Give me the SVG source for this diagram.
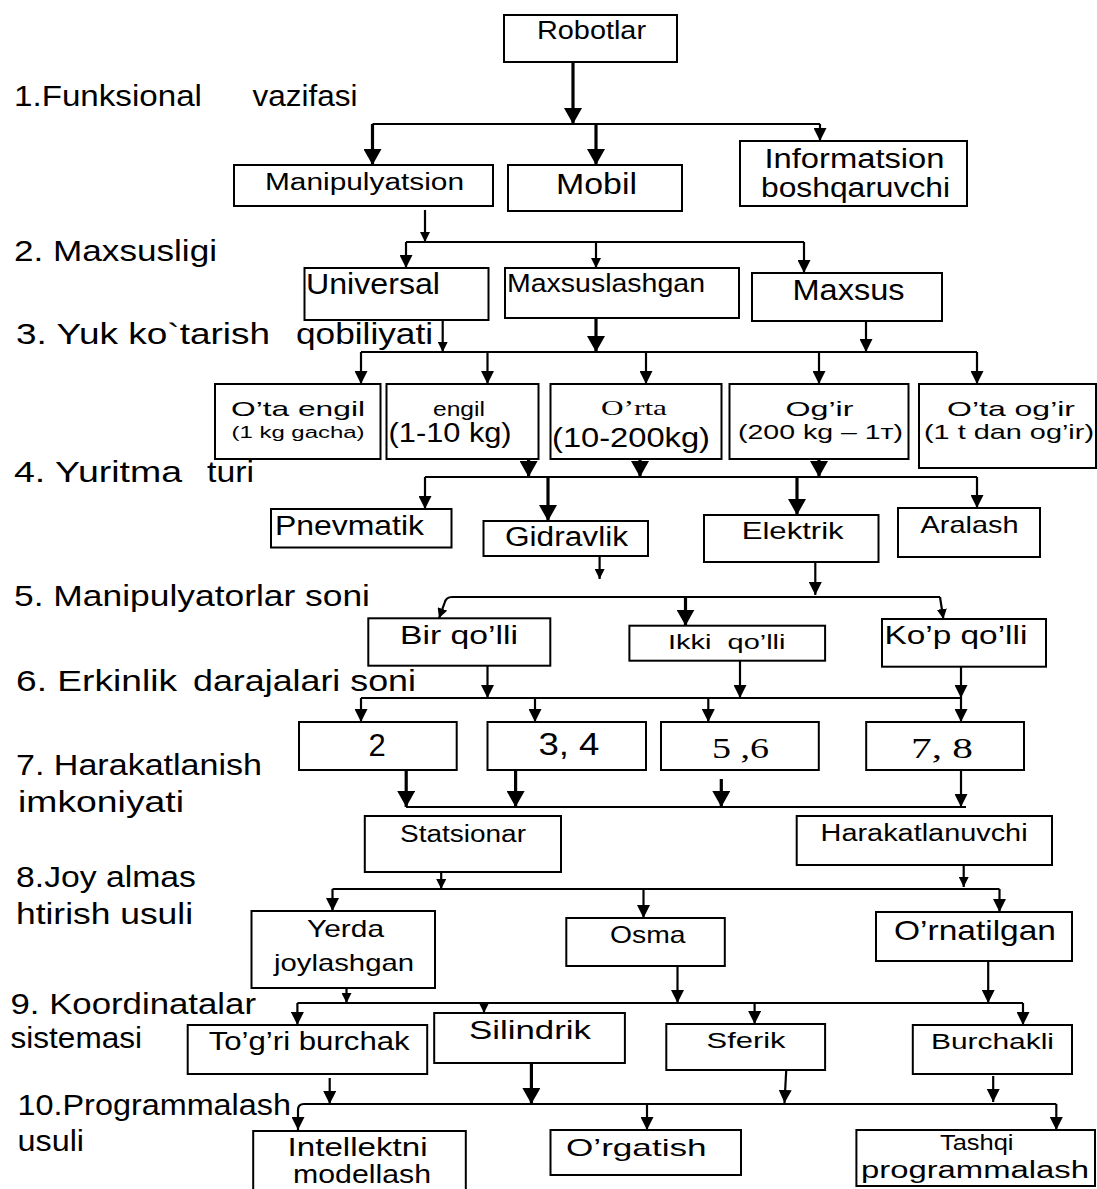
<svg xmlns="http://www.w3.org/2000/svg" width="1097" height="1189" viewBox="0 0 1097 1189">
<style>
.ln{fill:none;stroke:#000;stroke-width:2.2}
.tk{stroke-width:3.2}
.bx{fill:#fff;stroke:#000;stroke-width:2}
text{font-family:"Liberation Sans",Arial,sans-serif;fill:#000}
.sf{font-family:"Liberation Serif","Times New Roman",serif}
.lb{font-size:30px}
</style>
<defs>
<marker id="ms" markerUnits="userSpaceOnUse" markerWidth="10" markerHeight="10" refX="10" refY="5" orient="auto"><path d="M0,0 L10,5 L0,10 z"/></marker>
<marker id="mm" markerUnits="userSpaceOnUse" markerWidth="13" markerHeight="13" refX="13" refY="6.5" orient="auto"><path d="M0,0 L13,6.5 L0,13 z"/></marker>
<marker id="ml" markerUnits="userSpaceOnUse" markerWidth="16" markerHeight="18" refX="16" refY="9" orient="auto"><path d="M0,0 L16,9 L0,18 z"/></marker>
</defs>
<rect width="1097" height="1189" fill="#fff"/>

<g id="labels">
<text class="lb" y="106" font-size="26"><tspan x="14" textLength="188" lengthAdjust="spacingAndGlyphs">1.Funksional</tspan><tspan x="252.5" textLength="105" lengthAdjust="spacingAndGlyphs">vazifasi</tspan></text>
<text class="lb" x="14" y="261" textLength="203" lengthAdjust="spacingAndGlyphs">2. Maxsusligi</text>
<text class="lb" y="344"><tspan x="16" textLength="254" lengthAdjust="spacingAndGlyphs">3. Yuk ko`tarish</tspan><tspan x="296" textLength="137" lengthAdjust="spacingAndGlyphs">qobiliyati</tspan></text>
<text class="lb" y="482"><tspan x="14" textLength="168" lengthAdjust="spacingAndGlyphs">4. Yuritma</tspan><tspan x="207" textLength="47" lengthAdjust="spacingAndGlyphs">turi</tspan></text>
<text class="lb" x="14" y="606" textLength="356" lengthAdjust="spacingAndGlyphs">5. Manipulyatorlar soni</text>
<text class="lb" y="691"><tspan x="16" textLength="161" lengthAdjust="spacingAndGlyphs">6. Erkinlik</tspan><tspan x="193" textLength="223" lengthAdjust="spacingAndGlyphs">darajalari soni</tspan></text>
<text class="lb" x="16" y="775" textLength="246" lengthAdjust="spacingAndGlyphs">7. Harakatlanish</text>
<text class="lb" x="18" y="812" textLength="166" lengthAdjust="spacingAndGlyphs">imkoniyati</text>
<text class="lb" x="16" y="887" textLength="180" lengthAdjust="spacingAndGlyphs">8.Joy almas</text>
<text class="lb" x="16" y="924" textLength="177" lengthAdjust="spacingAndGlyphs">htirish usuli</text>
<text class="lb" x="10.5" y="1014" textLength="245.5" lengthAdjust="spacingAndGlyphs">9. Koordinatalar</text>
<text class="lb" x="10.5" y="1048" textLength="131.5" lengthAdjust="spacingAndGlyphs">sistemasi</text>
<text class="lb" x="17.5" y="1115" textLength="273.5" lengthAdjust="spacingAndGlyphs">10.Programmalash</text>
<text class="lb" x="17.5" y="1151" textLength="66.5" lengthAdjust="spacingAndGlyphs">usuli</text>
</g>

<g id="connectors">
<line class="ln tk" x1="573" y1="58" x2="573" y2="124" marker-end="url(#ml)"/>
<line class="ln" x1="372.5" y1="124" x2="820" y2="124"/>
<line class="ln tk" x1="372.5" y1="124" x2="372.5" y2="165" marker-end="url(#ml)"/>
<line class="ln tk" x1="596" y1="124" x2="596" y2="165" marker-end="url(#ml)"/>
<line class="ln" x1="820" y1="124" x2="820" y2="141" marker-end="url(#mm)"/>

<line class="ln" x1="425" y1="210" x2="425" y2="242" marker-end="url(#ms)"/>
<line class="ln" x1="406" y1="242" x2="804" y2="242"/>
<line class="ln" x1="406" y1="242" x2="406" y2="268" marker-end="url(#mm)"/>
<line class="ln" x1="596" y1="242" x2="596" y2="268" marker-end="url(#ms)"/>
<line class="ln" x1="804" y1="242" x2="804" y2="273" marker-end="url(#mm)"/>

<line class="ln" x1="442.7" y1="321" x2="442.7" y2="352" marker-end="url(#ms)"/>
<line class="ln tk" x1="596" y1="310" x2="596" y2="352" marker-end="url(#ml)"/>
<line class="ln" x1="866" y1="320" x2="866" y2="352" marker-end="url(#mm)"/>
<line class="ln" x1="361" y1="352" x2="977" y2="352"/>
<line class="ln" x1="361" y1="352" x2="361" y2="384" marker-end="url(#mm)"/>
<line class="ln" x1="487.5" y1="352" x2="487.5" y2="384" marker-end="url(#mm)"/>
<line class="ln" x1="646" y1="352" x2="646" y2="384" marker-end="url(#mm)"/>
<line class="ln" x1="819" y1="352" x2="819" y2="384" marker-end="url(#mm)"/>
<line class="ln" x1="977" y1="352" x2="977" y2="384" marker-end="url(#mm)"/>

<line class="ln tk" x1="528.6" y1="459" x2="528.6" y2="477" marker-end="url(#ml)"/>
<line class="ln tk" x1="640" y1="459" x2="640" y2="477" marker-end="url(#ml)"/>
<line class="ln tk" x1="819" y1="459" x2="819" y2="477" marker-end="url(#ml)"/>
<line class="ln" x1="425" y1="477" x2="977" y2="477"/>
<line class="ln" x1="425" y1="477" x2="425" y2="509" marker-end="url(#mm)"/>
<line class="ln tk" x1="548" y1="477" x2="548" y2="521" marker-end="url(#ml)"/>
<line class="ln tk" x1="797" y1="477" x2="797" y2="515" marker-end="url(#ml)"/>
<line class="ln" x1="977" y1="477" x2="977" y2="508" marker-end="url(#mm)"/>

<line class="ln" x1="599.6" y1="557" x2="599.6" y2="579" marker-end="url(#ms)"/>
<line class="ln" x1="815.3" y1="562" x2="815.3" y2="595" marker-end="url(#mm)"/>
<path class="ln" d="M940,597 L452,597 Q446,597 444.5,603 L439,618.3" marker-end="url(#ms)"/>
<line class="ln tk" x1="685.5" y1="597" x2="685.5" y2="625.7" marker-end="url(#ml)"/>
<line class="ln" x1="940" y1="597" x2="943.4" y2="619" marker-end="url(#ms)"/>

<line class="ln" x1="487.5" y1="666" x2="487.5" y2="698" marker-end="url(#mm)"/>
<line class="ln" x1="740" y1="661" x2="740" y2="698" marker-end="url(#mm)"/>
<line class="ln" x1="961" y1="667" x2="961" y2="698" marker-end="url(#mm)"/>
<line class="ln" x1="361" y1="698" x2="961" y2="698"/>
<line class="ln" x1="361" y1="698" x2="361" y2="722" marker-end="url(#mm)"/>
<line class="ln" x1="535" y1="698" x2="535" y2="722" marker-end="url(#mm)"/>
<line class="ln" x1="708.3" y1="698" x2="708.3" y2="722" marker-end="url(#mm)"/>
<line class="ln" x1="961" y1="698" x2="961" y2="722" marker-end="url(#mm)"/>

<line class="ln tk" x1="406.2" y1="764" x2="406.2" y2="807" marker-end="url(#ml)"/>
<line class="ln tk" x1="515.6" y1="770" x2="515.6" y2="807" marker-end="url(#ml)"/>
<line class="ln tk" x1="721.3" y1="779" x2="721.3" y2="807" marker-end="url(#ml)"/>
<line class="ln" x1="961" y1="770" x2="961" y2="807" marker-end="url(#mm)"/>
<line class="ln" x1="406" y1="807" x2="966" y2="807"/>

<line class="ln" x1="441.2" y1="872" x2="441.2" y2="889" marker-end="url(#ms)"/>
<line class="ln" x1="963.7" y1="865" x2="963.7" y2="887" marker-end="url(#ms)"/>
<line class="ln" x1="332.5" y1="889" x2="999.5" y2="889"/>
<line class="ln" x1="332.5" y1="889" x2="332.5" y2="911" marker-end="url(#mm)"/>
<line class="ln" x1="643.5" y1="889" x2="643.5" y2="918" marker-end="url(#mm)"/>
<line class="ln" x1="999.5" y1="889" x2="999.5" y2="912" marker-end="url(#mm)"/>

<line class="ln" x1="346.5" y1="988" x2="346.5" y2="1003" marker-end="url(#ms)"/>
<line class="ln" x1="677.5" y1="966" x2="677.5" y2="1003" marker-end="url(#mm)"/>
<line class="ln" x1="988.2" y1="953" x2="988.2" y2="1003" marker-end="url(#mm)"/>
<line class="ln" x1="297.4" y1="1003" x2="1023" y2="1003"/>
<line class="ln" x1="297.4" y1="1003" x2="297.4" y2="1025" marker-end="url(#mm)"/>
<line class="ln" x1="484" y1="1003" x2="484" y2="1013" marker-end="url(#ms)"/>
<line class="ln" x1="754.6" y1="1003" x2="754.6" y2="1024" marker-end="url(#mm)"/>
<line class="ln" x1="1023" y1="1003" x2="1023" y2="1025" marker-end="url(#mm)"/>

<line class="ln" x1="329.7" y1="1078" x2="329.7" y2="1104" marker-end="url(#mm)"/>
<line class="ln tk" x1="531.4" y1="1063" x2="531.4" y2="1104" marker-end="url(#ml)"/>
<line class="ln" x1="786.6" y1="1063" x2="784.5" y2="1103" marker-end="url(#mm)"/>
<line class="ln" x1="993.2" y1="1076" x2="993.2" y2="1102" marker-end="url(#mm)"/>
<path class="ln" d="M1056.3,1104 L304,1104 Q298,1104 298,1110 L298,1130" marker-end="url(#mm)"/>
<line class="ln" x1="647" y1="1104" x2="647" y2="1130" marker-end="url(#mm)"/>
<line class="ln" x1="1056.3" y1="1104" x2="1056.3" y2="1130" marker-end="url(#mm)"/>
</g>

<g id="n-robotlar"><rect class="bx" x="504" y="15" width="173" height="47"/><text x="537" y="39" font-size="25" textLength="109" lengthAdjust="spacingAndGlyphs">Robotlar</text></g>
<g id="n-manipulyatsion"><rect class="bx" x="234" y="165" width="259" height="41"/><text x="265" y="190" font-size="23" textLength="199" lengthAdjust="spacingAndGlyphs">Manipulyatsion</text></g>
<g id="n-mobil"><rect class="bx" x="508" y="165" width="174" height="46"/><text x="556" y="194" font-size="29" textLength="81" lengthAdjust="spacingAndGlyphs">Mobil</text></g>
<g id="n-informatsion"><rect class="bx" x="740" y="141" width="227" height="65"/><text x="764.5" y="168" font-size="27" textLength="180" lengthAdjust="spacingAndGlyphs">Informatsion</text><text x="761" y="197" font-size="27" textLength="189" lengthAdjust="spacingAndGlyphs">boshqaruvchi</text></g>

<g id="n-universal"><rect class="bx" x="304.5" y="268" width="184" height="52"/><text x="306" y="294" font-size="30" textLength="134" lengthAdjust="spacingAndGlyphs">Universal</text></g>
<g id="n-maxsuslashgan"><rect class="bx" x="505" y="268" width="234" height="50"/><text x="507" y="292" font-size="26" textLength="198" lengthAdjust="spacingAndGlyphs">Maxsuslashgan</text></g>
<g id="n-maxsus"><rect class="bx" x="752" y="273" width="190" height="48"/><text x="792.5" y="300" font-size="30" textLength="112" lengthAdjust="spacingAndGlyphs">Maxsus</text></g>

<g id="n-ota-engil"><rect class="bx" x="215" y="384" width="165.5" height="75"/><text x="231" y="416" font-size="21" textLength="134" lengthAdjust="spacingAndGlyphs">O’ta engil</text><text x="231.5" y="438" font-size="16" textLength="133" lengthAdjust="spacingAndGlyphs">(1 kg gacha)</text></g>
<g id="n-engil"><rect class="bx" x="386.5" y="384" width="152" height="75"/><text x="433" y="416" font-size="21" textLength="52" lengthAdjust="spacingAndGlyphs">engil</text><text x="388.6" y="442" font-size="27" textLength="123" lengthAdjust="spacingAndGlyphs">(1-10 kg)</text></g>
<g id="n-orta"><rect class="bx" x="550.5" y="384" width="171" height="75"/><text class="sf" x="601" y="415" font-size="22" textLength="66" lengthAdjust="spacingAndGlyphs">O’rta</text><text x="552" y="447" font-size="28" textLength="158" lengthAdjust="spacingAndGlyphs">(10-200kg)</text></g>
<g id="n-ogir"><rect class="bx" x="729.5" y="384" width="179" height="75"/><text x="785.5" y="416" font-size="21" textLength="68" lengthAdjust="spacingAndGlyphs">Og’ir</text><text x="738" y="439" font-size="21" textLength="165" lengthAdjust="spacingAndGlyphs">(200 kg – 1т)</text></g>
<g id="n-ota-ogir"><rect class="bx" x="919" y="384" width="177" height="84"/><text x="947" y="416" font-size="21" textLength="128" lengthAdjust="spacingAndGlyphs">O’ta og’ir</text><text x="924" y="439" font-size="21" textLength="170" lengthAdjust="spacingAndGlyphs">(1 t dan og’ir)</text></g>

<g id="n-pnevmatik"><rect class="bx" x="271" y="509" width="180.5" height="38.5"/><text x="275" y="535" font-size="28" textLength="149" lengthAdjust="spacingAndGlyphs">Pnevmatik</text></g>
<g id="n-gidravlik"><rect class="bx" x="483.5" y="521" width="164.5" height="35"/><text x="505" y="546" font-size="27" textLength="123" lengthAdjust="spacingAndGlyphs">Gidravlik</text></g>
<g id="n-elektrik"><rect class="bx" x="704" y="515" width="174.5" height="47"/><text x="741.7" y="539" font-size="24" textLength="102" lengthAdjust="spacingAndGlyphs">Elektrik</text></g>
<g id="n-aralash"><rect class="bx" x="898" y="508" width="142" height="49"/><text x="920.5" y="533" font-size="24" textLength="98" lengthAdjust="spacingAndGlyphs">Aralash</text></g>

<g id="n-bir-qolli"><rect class="bx" x="368.3" y="618.3" width="182" height="47.4"/><text x="400" y="644" font-size="25" textLength="118" lengthAdjust="spacingAndGlyphs">Bir qo’lli</text></g>
<g id="n-ikki-qolli"><rect class="bx" x="629.4" y="625.7" width="195.7" height="35"/><text x="668" y="649" font-size="21" textLength="117.5" lengthAdjust="spacingAndGlyphs" xml:space="preserve">Ikki  qo’lli</text></g>
<g id="n-kop-qolli"><rect class="bx" x="882" y="619" width="164" height="47.7"/><text x="884.4" y="644" font-size="25" textLength="143" lengthAdjust="spacingAndGlyphs">Ko’p qo’lli</text></g>

<g id="n-2"><rect class="bx" x="299" y="722" width="157.7" height="48"/><text x="377" y="756" font-size="31" text-anchor="middle">2</text></g>
<g id="n-3-4"><rect class="bx" x="487.5" y="722" width="158.5" height="48"/><text x="538.4" y="755" font-size="31" textLength="61" lengthAdjust="spacingAndGlyphs">3, 4</text></g>
<g id="n-5-6"><rect class="bx" x="661" y="722" width="157.8" height="48"/><text class="sf" x="712" y="758" font-size="30" textLength="57" lengthAdjust="spacingAndGlyphs">5 ,6</text></g>
<g id="n-7-8"><rect class="bx" x="866.2" y="722" width="157.8" height="48"/><text class="sf" x="911" y="758" font-size="30" textLength="62" lengthAdjust="spacingAndGlyphs">7, 8</text></g>

<g id="n-statsionar"><rect class="bx" x="364.8" y="816" width="196.2" height="56"/><text x="400" y="842" font-size="23" textLength="126" lengthAdjust="spacingAndGlyphs">Statsionar</text></g>
<g id="n-harakatlanuvchi"><rect class="bx" x="796.7" y="816" width="255.3" height="49"/><text x="820.6" y="841" font-size="23" textLength="207" lengthAdjust="spacingAndGlyphs">Harakatlanuvchi</text></g>

<g id="n-yerda"><rect class="bx" x="251.5" y="911" width="183.5" height="77"/><text x="307" y="937" font-size="24" textLength="77" lengthAdjust="spacingAndGlyphs">Yerda</text><text x="274" y="971" font-size="24" textLength="140" lengthAdjust="spacingAndGlyphs">joylashgan</text></g>
<g id="n-osma"><rect class="bx" x="566.3" y="918" width="158.5" height="48"/><text x="610" y="943" font-size="24" textLength="75.5" lengthAdjust="spacingAndGlyphs">Osma</text></g>
<g id="n-ornatilgan"><rect class="bx" x="876" y="912" width="196" height="49"/><text x="894" y="940" font-size="28" textLength="162" lengthAdjust="spacingAndGlyphs">O’rnatilgan</text></g>

<g id="n-togri-burchak"><rect class="bx" x="187.7" y="1025" width="239.5" height="49"/><text x="208.7" y="1050" font-size="25" textLength="201" lengthAdjust="spacingAndGlyphs">To’g’ri burchak</text></g>
<g id="n-silindrik"><rect class="bx" x="434.2" y="1013" width="190.7" height="50"/><text x="469" y="1039" font-size="26" textLength="122" lengthAdjust="spacingAndGlyphs">Silindrik</text></g>
<g id="n-sferik"><rect class="bx" x="666.3" y="1024" width="158.8" height="46"/><text x="706.6" y="1048" font-size="22" textLength="79" lengthAdjust="spacingAndGlyphs">Sferik</text></g>
<g id="n-burchakli"><rect class="bx" x="912.8" y="1025" width="159.2" height="49"/><text x="931" y="1049" font-size="22" textLength="123" lengthAdjust="spacingAndGlyphs">Burchakli</text></g>

<g id="n-intellektni"><rect class="bx" x="253.2" y="1131" width="212.6" height="80"/><text x="287.6" y="1156" font-size="26" textLength="140" lengthAdjust="spacingAndGlyphs">Intellektni</text><text x="293" y="1183" font-size="26" textLength="138" lengthAdjust="spacingAndGlyphs">modellash</text></g>
<g id="n-orgatish"><rect class="bx" x="550.5" y="1130" width="190.5" height="45"/><text x="566" y="1156" font-size="24" textLength="140.6" lengthAdjust="spacingAndGlyphs">O’rgatish</text></g>
<g id="n-tashqi"><rect class="bx" x="856.4" y="1130" width="238.6" height="56"/><text x="940" y="1150" font-size="22" textLength="73.5" lengthAdjust="spacingAndGlyphs">Tashqi</text><text x="861" y="1178" font-size="23" textLength="228" lengthAdjust="spacingAndGlyphs">programmalash</text></g>
</svg>
